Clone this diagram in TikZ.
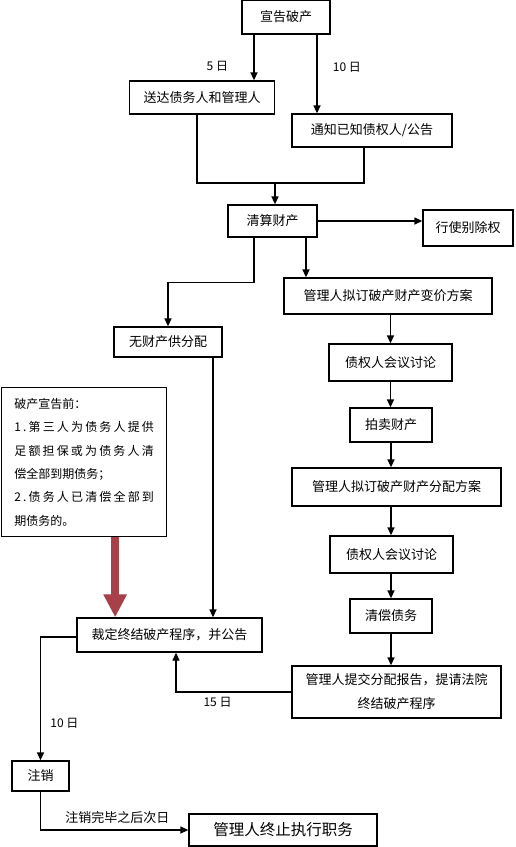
\documentclass[tikz,border=0pt]{standalone}
\usepackage{fontspec}
\setmainfont{Noto Sans CJK SC}
\usetikzlibrary{arrows.meta}
\definecolor{warnred}{RGB}{168,64,74}
\newcommand{\spreadline}[1]{{\addfontfeature{LetterSpace=18}#1}}

\begin{document}
\begin{tikzpicture}[>={Triangle[length=8pt,width=7pt]},x=1pt,y=-1pt,
		box/.style={draw=black,fill=white,line width=1.3pt,inner sep=0pt,font=\fontsize{13}{16}\selectfont},
		link/.style={line width=1.3pt},
		lbl/.style={font=\fontsize{12}{14}\selectfont}]
	\useasboundingbox[fill=white] (0,0) rectangle (515,847);

	\node[box,minimum width=88,minimum height=34] (declare) at (286,17) {宣告破产};
	\node[box,minimum width=145,minimum height=33] (deliver) at (202,97.5) {送达债务人和管理人};
	\node[box,minimum width=160,minimum height=33] (notify) at (372,130.5) {通知已知债权人/公告};

	\node[box,minimum width=89,minimum height=32] (liquid) at (272.5,221) {清算财产};
	\node[box,minimum width=90,minimum height=36] (separate) at (468,228) {行使别除权};
	\node[box,minimum width=108,minimum height=30] (noasset) at (168,342) {无财产供分配};

	\node[box,minimum width=208,minimum height=36] (sellplan) at (388,296) {管理人拟订破产财产变价方案};
	\node[box,minimum width=123,minimum height=37] (meetA) at (390.5,362.5) {债权人会议讨论};
	\node[box,minimum width=82,minimum height=34] (auction) at (391,425) {拍卖财产};
	\node[box,minimum width=209,minimum height=38] (shareplan) at (396.5,487) {管理人拟订破产财产分配方案};
	\node[box,minimum width=123,minimum height=37] (meetB) at (391.5,554.5) {债权人会议讨论};
	\node[box,minimum width=82,minimum height=34] (repay) at (391,616) {清偿债务};
	\node[box,minimum width=209,minimum height=52,align=center,font=\fontsize{13}{24}\selectfont] (report) at (396.5,692) {管理人提交分配报告，提请法院\\终结破产程序};

	\node[box,minimum width=185,minimum height=34] (ruling) at (169.5,635) {裁定终结破产程序，并公告};
	\node[box,anchor=north west,minimum width=165,minimum height=149,align=left,inner xsep=11,inner ysep=9,
		font=\fontsize{12}{23.4}\selectfont] (note) at (1,387) {破产宣告前：\\
		\spreadline{1.第三人为债务人提供}\\
		\spreadline{足额担保或为债务人清}\\
		偿全部到期债务；\\
		\spreadline{2.债务人已清偿全部到}\\
		期债务的。};

	\node[box,minimum width=57,minimum height=30] (cancel) at (40.5,776) {注销};
	\node[box,minimum width=188,minimum height=32,font=\fontsize{15.5}{18}\selectfont] (stop) at (283,830) {管理人终止执行职务};

	\draw[link,->] ([xshift=-32]declare.south) -- ([xshift=-32]declare.south |- deliver.north)
		node[lbl,pos=0.7,left=22pt] {5 日};
	\draw[link,->] ([xshift=31]declare.south) -- ([xshift=31]declare.south |- notify.north)
		node[lbl,pos=0.41,right=12pt] {10 日};

	\coordinate (merge) at (275,183);
	\draw[link] ([xshift=-5]deliver.south) |- (merge) -| ([xshift=-8]notify.south);
	\draw[link,->] (merge) -- (merge |- liquid.north);

	\draw[link,->] (liquid.east) -- (liquid.east -| separate.west);
	\draw[link,->] ([xshift=-18.5]liquid.south) -- ++(0,45) -| (noasset.north);
	\draw[link,->] ([xshift=33.5]liquid.south) -- ([xshift=33.5]liquid.south |- sellplan.north);

	\draw[link,->] (sellplan.south -| meetA.north) -- (meetA.north);
	\draw[link,->] (meetA.south) -- (meetA.south |- auction.north);
	\draw[link,->] (auction.south) -- (auction.south |- shareplan.north);
	\draw[link,->] (shareplan.south -| auction.south) -- (auction.south |- meetB.north);
	\draw[link,->] (meetB.south -| auction.south) -- (auction.south |- repay.north);
	\draw[link,->] (repay.south) -- (repay.south |- report.north);

	\draw[link,->] ([xshift=45]noasset.south) -- ([xshift=45]noasset.south |- ruling.north);
	\draw[line width=8pt,draw=warnred,-{Triangle[length=23pt,width=22pt]}] ([xshift=31]note.south) -- ([xshift=31]note.south |- ruling.north);

	\draw[link,->] (report.west) -| ([xshift=6.5]ruling.south)
		node[lbl,pos=0.32,below=1pt] {15 日};
	\draw[link,->] ([yshift=-2]ruling.west) -| (cancel.north)
		node[lbl,pos=0.85,right=6pt] {10 日};
	\draw[link,->] (cancel.south) |- (stop.west)
		node[pos=0.76,above=2pt,font=\fontsize{13}{15}\selectfont] {注销完毕之后次日};
\end{tikzpicture}
\end{document}
